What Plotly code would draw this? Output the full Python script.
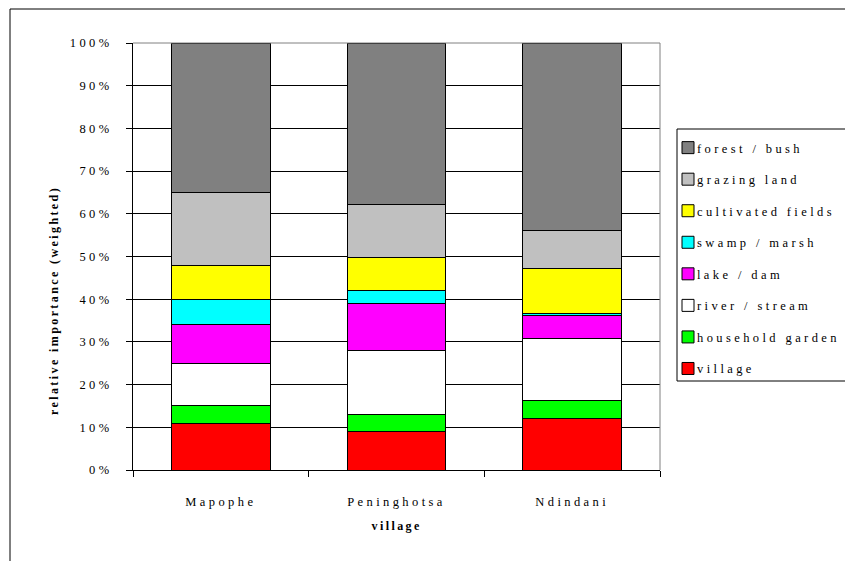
import plotly.graph_objects as go

# Villages on the x axis
villages = ["Mapophe", "Peninghotsa", "Ndindani"]

# Land-use categories, stacked bottom to top, with their fill colours
categories = ["village", "household garden", "river / stream", "lake / dam",
              "swamp / marsh", "cultivated fields", "grazing land", "forest / bush"]
colors = ["#FF0000", "#00FF00", "#FFFFFF", "#FF00FF",
          "#00FFFF", "#FFFF00", "#C0C0C0", "#808080"]

# Relative importance (weighted, %) per village
village_vals = [11, 9, 12]
household_garden_vals = [4, 4, 4.2]
river_stream_vals = [10, 15, 14.7]
lake_dam_vals = [9, 11, 5.3]
swamp_marsh_vals = [6, 3, 0.5]
cultivated_fields_vals = [8, 7.7, 10.4]
grazing_land_vals = [17, 12.4, 9.1]
forest_bush_vals = [35, 37.9, 43.8]

series = [village_vals, household_garden_vals, river_stream_vals, lake_dam_vals,
          swamp_marsh_vals, cultivated_fields_vals, grazing_land_vals, forest_bush_vals]

y_ticks = list(range(0, 101, 10))
y_tick_text = [f"{v}%" for v in y_ticks]

FONT = "Liberation Serif"
W, H = 845, 561
L, R, T, B = 133, 185, 43, 91
pw, ph = W - L - R, H - T - B


def px_x(x):
    return (x - L) / pw


def px_y(y):
    return (H - B - y) / ph


fig = go.Figure()
n = len(categories)
for i, (name, vals, col) in enumerate(zip(categories, series, colors)):
    fig.add_trace(go.Bar(
        x=villages, y=vals, name=name, legendgroup=name, legendrank=n - i,
        marker=dict(color=col, line=dict(color="black", width=1)),
        hoverinfo="skip",
    ))

fig.update_layout(
    width=W, height=H,
    margin=dict(l=L, r=R, t=T, b=B),
    barmode="stack", bargap=0.44,
    paper_bgcolor="white", plot_bgcolor="white",
    font=dict(family=FONT, size=12.5, color="black"),
    showlegend=True,
    legend=dict(
        x=px_x(668), y=px_y(133), xanchor="left", yanchor="top",
        traceorder="grouped", tracegroupgap=12.3,
        font=dict(family=FONT, size=12.5, color="black"),
        bgcolor="rgba(0,0,0,0)", borderwidth=0,
    ),
    xaxis=dict(
        showline=True, linecolor="black", linewidth=1,
        ticks="outside", ticklen=6, tickcolor="black", tickson="boundaries",
        showgrid=False, ticklabelstandoff=20,
        tickfont=dict(family=FONT, size=12.5),
    ),
    yaxis=dict(
        range=[0, 100], tickvals=y_ticks, ticktext=y_tick_text,
        showline=True, linecolor="black", linewidth=1,
        ticks="outside", ticklen=6, tickcolor="black",
        showgrid=True, gridcolor="black", gridwidth=1, zeroline=False,
        ticklabelstandoff=11,
        tickfont=dict(family=FONT, size=12.5),
    ),
    shapes=[
        # outer chart frame
        dict(type="rect", xref="paper", yref="paper",
             x0=px_x(10), x1=px_x(860), y0=px_y(575), y1=px_y(9),
             line=dict(color="black", width=1), fillcolor="rgba(0,0,0,0)"),
        # plot area border (top and right)
        dict(type="line", xref="paper", yref="paper", x0=0, x1=1, y0=1, y1=1,
             line=dict(color="#808080", width=1)),
        dict(type="line", xref="paper", yref="paper", x0=1, x1=1, y0=0, y1=1,
             line=dict(color="#808080", width=1)),
        # legend box
        dict(type="rect", xref="paper", yref="paper",
             x0=px_x(677), x1=px_x(860), y0=px_y(381), y1=px_y(129),
             line=dict(color="black", width=1), fillcolor="rgba(0,0,0,0)"),
    ],
    annotations=[
        dict(text="<b>relative importance (weighted)</b>", textangle=-90,
             xref="paper", yref="paper", x=px_x(45), y=px_y(301),
             showarrow=False, font=dict(family=FONT, size=12)),
        dict(text="<b>village</b>",
             xref="paper", yref="paper", x=0.5, y=px_y(535),
             showarrow=False, font=dict(family=FONT, size=12)),
    ],
)

# Wide letter spacing on chart text; legend labels sit close to their swatches
style_js = """
var st = document.createElement('style');
st.textContent = '.main-svg text { letter-spacing: 3.4px; } '
  + '.main-svg .annotation-text { letter-spacing: 2.4px; } '
  + '.legendtext { transform: translateX(-11px); } '
  + '.legend .scrollbox { clip-path: none !important; }';
document.head.appendChild(st);
"""

fig.write_html("out.html", post_script=style_js)
